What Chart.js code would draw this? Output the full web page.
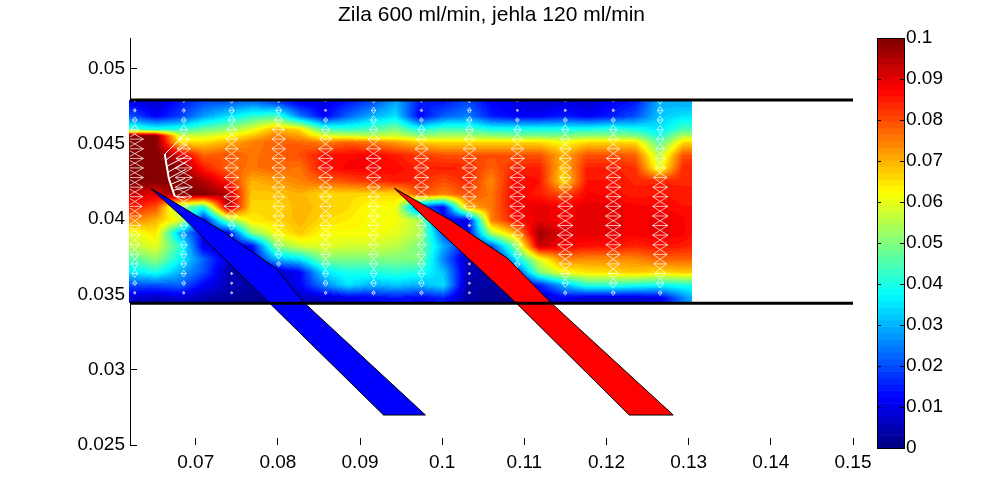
<!DOCTYPE html>
<html>
<head>
<meta charset="utf-8">
<style>html,body{margin:0;padding:0;background:#fff}canvas{display:block}</style>
<script src="https://cdn.jsdelivr.net/npm/chart.js@4"></script>
</head>
<body>
<canvas id="c" width="1001" height="500"></canvas>
<script>
const titleText = 'Zila 600 ml/min, jehla 120 ml/min';
const xTicks = [0.07,0.08,0.09,0.1,0.11,0.12,0.13,0.14,0.15];
const yTicks = [0.025,0.03,0.035,0.04,0.045,0.05];
const barTicks = [0,0.01,0.02,0.03,0.04,0.05,0.06,0.07,0.08,0.09,0.1];

const gridX = [.06222,.06514,.06806,.07097,.07389,.07681,.07973,.08264,.08556,.08848,.0914,.09432,.09723,.10015,.10307,.10599,.1089,.11182,.11474,.11766,.12058,.1235,.12641,.12933,.13043];
const gridY = [.04768,.04682,.04595,.04552,.04509,.04423,.04337,.04251,.04164,.04078,.03992,.03906,.0382,.03733,.03647,.03561,.03475];
const speed = [
[.012,.008,.015,.02,.022,.025,.02,.012,.01,.015,.02,.03,.015,.015,.02,.012,.01,.008,.01,.008,.012,.015,.03,.03,.03],
[.02,.012,.018,.028,.035,.042,.045,.025,.012,.022,.03,.035,.012,.022,.025,.015,.012,.012,.015,.012,.015,.02,.032,.035,.035],
[.045,.04,.042,.048,.052,.06,.07,.066,.045,.042,.045,.05,.04,.045,.045,.04,.04,.04,.04,.04,.042,.04,.035,.045,.045],
[.1,.1,.058,.058,.062,.068,.075,.072,.06,.058,.056,.058,.052,.054,.054,.052,.05,.05,.05,.052,.052,.05,.04,.055,.055],
[.1,.1,.065,.066,.07,.075,.078,.078,.075,.078,.076,.072,.068,.066,.066,.066,.066,.066,.062,.066,.066,.066,.045,.066,.066],
[.1,.1,.092,.078,.08,.076,.078,.08,.086,.087,.088,.085,.082,.08,.08,.08,.08,.08,.07,.08,.08,.078,.055,.08,.08],
[.1,.1,.1,.085,.078,.076,.078,.076,.086,.088,.088,.087,.084,.085,.084,.078,.084,.085,.068,.085,.085,.083,.06,.084,.084],
[.1,.1,.1,.095,.085,.07,.072,.075,.078,.08,.083,.085,.084,.08,.084,.074,.088,.086,.065,.086,.086,.084,.084,.084,.084],
[.092,.09,.1,.1,.095,.068,.068,.07,.066,.066,.066,.066,.08,.075,.08,.076,.088,.085,.08,.088,.087,.085,.086,.085,.085],
[.085,.08,.05,.04,.095,.066,.066,.07,.068,.066,.062,.062,.02,.012,.07,.076,.088,.09,.088,.09,.09,.088,.088,.086,.086],
[.075,.07,.06,.012,.05,.065,.066,.07,.066,.064,.062,.062,.055,.012,.01,.075,.086,.09,.088,.09,.09,.088,.09,.088,.086],
[.06,.065,.03,.012,.01,.05,.062,.068,.062,.062,.062,.06,.055,.02,.01,.055,.07,.097,.09,.09,.09,.088,.09,.088,.086],
[.056,.06,.042,.01,.008,.012,.05,.058,.06,.058,.058,.056,.05,.03,.012,.02,.05,.093,.088,.086,.086,.084,.086,.085,.084],
[.045,.052,.038,.022,.008,.01,.03,.035,.05,.05,.05,.05,.05,.025,.006,.008,.035,.06,.075,.074,.074,.074,.078,.078,.078],
[.035,.04,.03,.02,.005,.003,.006,.012,.035,.04,.04,.042,.04,.032,.006,.004,.015,.05,.062,.065,.066,.068,.066,.068,.068],
[.02,.02,.022,.012,.006,.004,.006,.012,.025,.035,.03,.032,.03,.035,.004,.003,.006,.015,.03,.042,.042,.04,.038,.04,.04],
[.008,.006,.008,.005,.003,.002,.003,.006,.008,.01,.012,.014,.012,.015,.004,.002,.003,.005,.012,.008,.008,.008,.01,.025,.03]
];

const quiverX = [.06258,.06854,.07437,.08009,.08580,.09164,.09747,.10331,.10915,.11498,.12082,.12653];
const quiverY = [.04785,.04721,.04657,.04593,.04530,.04466,.04402,.04339,.04275,.04211,.04148,.04084,.04020,.03957,.03893,.03829,.03765,.03702,.03638,.03574,.03510];
const fanTipX = [.06623,.06635,.06647,.06660,.06672,.06696,.06720,.06745];
const fanTipY = [.04430,.04390,.04350,.04310,.04270,.04230,.04190,.04150];
const fanEndX = [.06865,.06900,.06900,.06890,.06880,.06870,.06900,.06880];
const fanEndY = [.04560,.04500,.04420,.04380,.04330,.04270,.04210,.04140];

const wallTopY = 0.0479, wallBottomY = 0.0344;
const wallX = [0.062, 0.15];
const blueBladeX = [.06453,.07304,.07973,.08313,.09796,.09286,.07887,.06854,.06453];
const blueBladeY = [.04204,.03926,.03674,.03448,.02699,.02699,.03448,.04005,.04204];
const redBladeX = [.09419,.1010,.10793,.11316,.12812,.12277,.10891,.09821,.09419];
const redBladeY = [.04204,.03992,.0374,.03448,.02699,.02699,.03448,.03992,.04204];

function zipXY(xs, ys){ return xs.map((x,i)=>({x, y:ys[i]})); }
function seek(arr, v){
  const asc = arr[1] > arr[0];
  for (let i=0;i<arr.length-1;i++){
    const a=arr[i], b=arr[i+1];
    if (asc ? v<=b : v>=b) return [i, Math.max(0,Math.min(1,(v-a)/(b-a)))];
  }
  return [arr.length-2, 1];
}
function speedAt(x, y){
  const [i,tx] = seek(gridX,x), [j,ty] = seek(gridY,y);
  const a=speed[j][i], b=speed[j][i+1], c=speed[j+1][i], d=speed[j+1][i+1];
  return (a*(1-tx)+b*tx)*(1-ty)+(c*(1-tx)+d*tx)*ty;
}
function jet(v){
  const n = 64;
  let k = Math.floor(v/0.1*n); k = Math.max(0,Math.min(n-1,k));
  const t = (k+0.5)/n;
  const cl = q=>Math.max(0,Math.min(1,q));
  return [cl(1.5-Math.abs(4*t-3))*255, cl(1.5-Math.abs(4*t-2))*255, cl(1.5-Math.abs(4*t-1))*255];
}

const arrowSegs = [];
function seg(pts){ pts.forEach(p=>arrowSegs.push({x:p[0],y:p[1]})); arrowSegs.push({x:null,y:null}); }
quiverX.forEach(qx=>quiverY.forEach(qy=>{
  const s = speedAt(qx,qy), half = Math.max(.00012, s*.0105), h = Math.min(.00032, half*.75);
  seg([[qx+half,qy],[qx-half,qy]]);
  seg([[qx,qy+h],[qx-half,qy],[qx,qy-h]]);
  seg([[qx,qy+h],[qx+half,qy],[qx,qy-h]]);
}));
const fanSegs = [];
fanTipX.forEach((x,i)=>{ fanSegs.push({x,y:fanTipY[i]},{x:fanEndX[i],y:fanEndY[i]},{x:null,y:null}); });
const fanEdge = zipXY(fanTipX, fanTipY);

const heatPoints = [];
gridY.forEach((y,j)=>gridX.forEach((x,i)=>heatPoints.push({x,y,v:speed[j][i]})));

const heatPlugin = {
  id:'heat',
  beforeDatasetsDraw(chart){
    const {ctx, scales:{x:sx,y:sy}} = chart;
    const L=Math.round(sx.getPixelForValue(gridX[0]-0.0003)), R=Math.round(sx.getPixelForValue(gridX[gridX.length-1]));
    const T=Math.round(sy.getPixelForValue(wallTopY)), B=Math.round(sy.getPixelForValue(wallBottomY));
    const w=R-L, h=B-T;
    const off=document.createElement('canvas'); off.width=w; off.height=h;
    const oc=off.getContext('2d'), img=oc.createImageData(w,h);
    for(let py=0;py<h;py++){
      const dy=sy.getValueForPixel(T+py+.5);
      for(let px=0;px<w;px++){
        const c=jet(speedAt(sx.getValueForPixel(L+px+.5),dy)), o=(py*w+px)*4;
        img.data[o]=c[0];img.data[o+1]=c[1];img.data[o+2]=c[2];img.data[o+3]=255;
      }
    }
    oc.putImageData(img,0,0);
    ctx.drawImage(off,L,T);
  },
  afterDraw(chart){
    const {ctx, scales:{c:sc}} = chart;
    const L=877, R=904;
    const T=sc.getPixelForValue(0.1), B=sc.getPixelForValue(0);
    for(let k=0;k<64;k++){
      const v0=k/64*0.1, v1=(k+1)/64*0.1, col=jet((v0+v1)/2);
      const y1=sc.getPixelForValue(v1), y0=sc.getPixelForValue(v0);
      ctx.fillStyle=`rgb(${col[0]|0},${col[1]|0},${col[2]|0})`;
      ctx.fillRect(L,y1,R-L,y0-y1+.6);
    }
    ctx.strokeStyle='#000'; ctx.lineWidth=1;
    ctx.strokeRect(L+.5,Math.round(T)+.5,R-L,Math.round(B-T));
    ctx.beginPath();
    barTicks.forEach(v=>{
      const y=Math.round(sc.getPixelForValue(v))+.5;
      ctx.moveTo(L,y);ctx.lineTo(L+4,y);ctx.moveTo(R-4,y);ctx.lineTo(R,y);
    });
    ctx.stroke();
  }
};

function noPad(s){ s.paddingTop=0; s.paddingBottom=0; s.paddingLeft=0; s.paddingRight=0; }
const tickFont = {family:'"Liberation Sans", Arial, sans-serif', size:19};
new Chart(document.getElementById('c'),{
  type:'scatter',
  plugins:[heatPlugin],
  data:{datasets:[
    {label:'Zila wall top', data:zipXY(wallX,[wallTopY,wallTopY]), showLine:true, borderColor:'#000', borderWidth:3, pointRadius:0, order:1},
    {label:'Zila wall bottom', data:zipXY(wallX,[wallBottomY,wallBottomY]), showLine:true, borderColor:'#000', borderWidth:3, pointRadius:0, order:1},
    {label:'Blue blade', data:zipXY(blueBladeX,blueBladeY), showLine:true, fill:'shape', backgroundColor:'#0000ff', borderColor:'#000', borderWidth:1, pointRadius:0, order:2},
    {label:'Red blade', data:zipXY(redBladeX,redBladeY), showLine:true, fill:'shape', backgroundColor:'#ff0000', borderColor:'#000', borderWidth:1, pointRadius:0, order:2},
    {label:'Fan arrows', data:fanSegs, showLine:true, spanGaps:false, borderColor:'#fff', borderWidth:1, pointRadius:0, order:3},
    {label:'Fan edge', data:fanEdge, showLine:true, borderColor:'#fff', borderWidth:2, pointRadius:0, order:3},
    {label:'Velocity arrows', data:arrowSegs, showLine:true, spanGaps:false, borderColor:'rgba(255,255,255,.7)', borderWidth:1, pointRadius:0, order:4},
    {label:'Speed', data:heatPoints, showLine:false, pointRadius:0, order:5}
  ]},
  options:{
    responsive:false, animation:false, events:[],
    layout:{padding:0},
    plugins:{
      legend:{display:false}, tooltip:{enabled:false},
      title:{display:true, text:titleText, color:'#000', fullSize:false,
        font:{family:'"Liberation Sans", Arial, sans-serif', size:21, weight:'normal'},
        padding:{top:3,bottom:10}}
    },
    scales:{
      x:{type:'linear', min:0.062, max:0.15,
        afterBuildTicks(s){s.ticks=xTicks.map(value=>({value}));},
        afterFit(s){s.height=55;noPad(s);},
        border:{display:false},
        grid:{drawOnChartArea:false, color:'#000', tickLength:-7},
        ticks:{color:'#000', font:tickFont, padding:13, maxRotation:0, autoSkip:false, callback:v=>String(v)}},
      y:{type:'linear', min:0.025, max:0.052,
        afterBuildTicks(s){s.ticks=yTicks.map(value=>({value}));},
        afterFit(s){s.width=130;noPad(s);},
        border:{display:true,color:'#000'},
        grid:{drawOnChartArea:false, color:'#000', tickLength:-7},
        ticks:{color:'#000', font:tickFont, padding:12, autoSkip:false, callback:v=>String(v)}},
      c:{type:'linear', position:'right', min:0.00073, max:0.1,
        afterBuildTicks(s){s.ticks=barTicks.map(value=>({value}));},
        afterFit(s){s.width=148;noPad(s);},
        border:{display:false},
        grid:{display:false,drawOnChartArea:false,drawTicks:false},
        ticks:{color:'#000', font:tickFont, padding:53, autoSkip:false, callback:v=>String(v)}}
    }
  }
});
</script>
</body>
</html>
